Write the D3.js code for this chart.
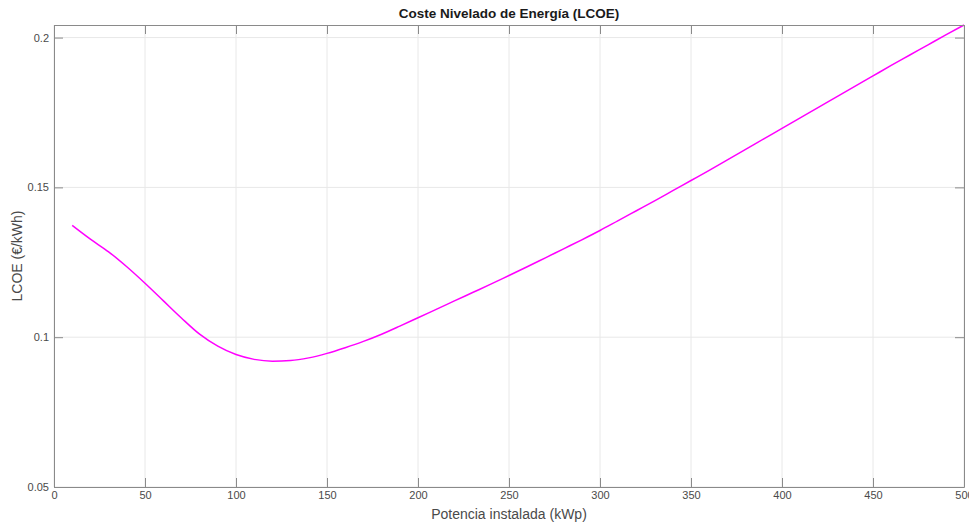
<!DOCTYPE html>
<html>
<head>
<meta charset="utf-8">
<script src="https://cdn.jsdelivr.net/npm/d3@7"></script>
<style>
  html, body { margin: 0; padding: 0; background: #fff; }
  svg { display: block; font-family: "Liberation Sans", Arial, Helvetica, sans-serif; }
</style>
</head>
<body>
<svg id="chart" width="969" height="524"></svg>
<script>
// Data
const potencia = [10,20,30,40,50,60,70,80,90,100,110,120,130,140,150,160,170,180,190,200,
  210,220,230,240,250,260,270,280,290,300,310,320,330,340,350,360,370,380,390,400,
  410,420,430,440,450,460,470,480,490,500];
const lcoe = [0.1373,0.1327,0.1285,0.1235,0.1180,0.1122,0.1064,0.1010,0.0970,0.0942,
  0.0926,0.0920,0.0922,0.0931,0.0946,0.0965,0.0986,0.1010,0.1037,0.1065,
  0.1093,0.1121,0.1149,0.1177,0.1206,0.1235,0.1265,0.1295,0.1325,0.1356,
  0.1389,0.1422,0.1455,0.1489,0.1523,0.1557,0.1592,0.1627,0.1662,0.1697,
  0.1732,0.1767,0.1802,0.1837,0.1872,0.1907,0.1941,0.1975,0.2009,0.2042];
const xTicks = [0,50,100,150,200,250,300,350,400,450,500];
const yTicks = [0.05,0.1,0.15,0.2];
const yTickLabels = ["0.05","0.1","0.15","0.2"];
const titleText = "Coste Nivelado de Energía (LCOE)";
const xLabelText = "Potencia instalada (kWp)";
const yLabelText = "LCOE (€/kWh)";

const svg = d3.select("#chart");
const m = { left: 54, right: 5, top: 25, bottom: 37 };
const W = 969, H = 524;
const x = d3.scaleLinear().domain([0, 500]).range([m.left, W - m.right]);
const y = d3.scaleLinear().domain([0.05, 0.2042]).range([H - m.bottom, m.top]);

const axisColor = "#8a8a8a";
const textColor = "#4a4a4a";

// grid
const grid = svg.append("g");
grid.selectAll("line.vx").data(xTicks).join("line")
  .attr("x1", d => x(d)).attr("x2", d => x(d))
  .attr("y1", y.range()[1]).attr("y2", y.range()[0])
  .attr("stroke", "#e8e8e8").attr("stroke-width", 1);
grid.selectAll("line.hy").data(yTicks).join("line")
  .attr("y1", d => y(d)).attr("y2", d => y(d))
  .attr("x1", x.range()[0]).attr("x2", x.range()[1])
  .attr("stroke", "#e8e8e8").attr("stroke-width", 1);

// line
const line = d3.line().x((d, i) => x(potencia[i])).y(d => y(d)).curve(d3.curveMonotoneX);
svg.append("path").datum(lcoe)
  .attr("d", line).attr("fill", "none")
  .attr("stroke", "#ff00ff").attr("stroke-width", 1.5)
  .attr("stroke-linejoin", "round");

// axes (MATLAB style, inward ticks on all sides)
const tl = 9;
function styleAxis(g) {
  g.select(".domain").attr("stroke", axisColor);
  g.selectAll(".tick line").attr("stroke", axisColor);
  g.selectAll(".tick text").attr("fill", textColor).attr("font-size", 11)
    .attr("font-family", "'Liberation Sans', Arial, sans-serif");
}
const xb = svg.append("g").attr("transform", `translate(0,${y.range()[0]})`)
  .call(d3.axisBottom(x).tickValues(xTicks).tickSizeInner(-tl).tickSizeOuter(0).tickPadding(4).tickFormat(d3.format("d")));
styleAxis(xb);
const xt = svg.append("g").attr("transform", `translate(0,${y.range()[1]})`)
  .call(d3.axisTop(x).tickValues(xTicks).tickSizeInner(-tl).tickSizeOuter(0).tickFormat(""));
styleAxis(xt);
const yl = svg.append("g").attr("transform", `translate(${x.range()[0]},0)`)
  .call(d3.axisLeft(y).tickValues(yTicks).tickSizeInner(-tl).tickSizeOuter(0).tickPadding(5)
    .tickFormat((d, i) => yTickLabels[i]));
styleAxis(yl);
const yr = svg.append("g").attr("transform", `translate(${x.range()[1]},0)`)
  .call(d3.axisRight(y).tickValues(yTicks).tickSizeInner(-tl).tickSizeOuter(0).tickFormat(""));
styleAxis(yr);

// titles
const cx = (x.range()[0] + x.range()[1]) / 2;
svg.append("text").attr("x", cx).attr("y", 18).attr("text-anchor", "middle")
  .attr("font-size", 13.5).attr("font-weight", "bold").attr("fill", "#1a1a1a").text(titleText);
svg.append("text").attr("x", cx).attr("y", 519).attr("text-anchor", "middle")
  .attr("font-size", 14).attr("fill", textColor).text(xLabelText);
svg.append("text")
  .attr("transform", `translate(22,${(y.range()[0] + y.range()[1]) / 2}) rotate(-90)`)
  .attr("text-anchor", "middle").attr("font-size", 14).attr("fill", textColor).text(yLabelText);
</script>
</body>
</html>
